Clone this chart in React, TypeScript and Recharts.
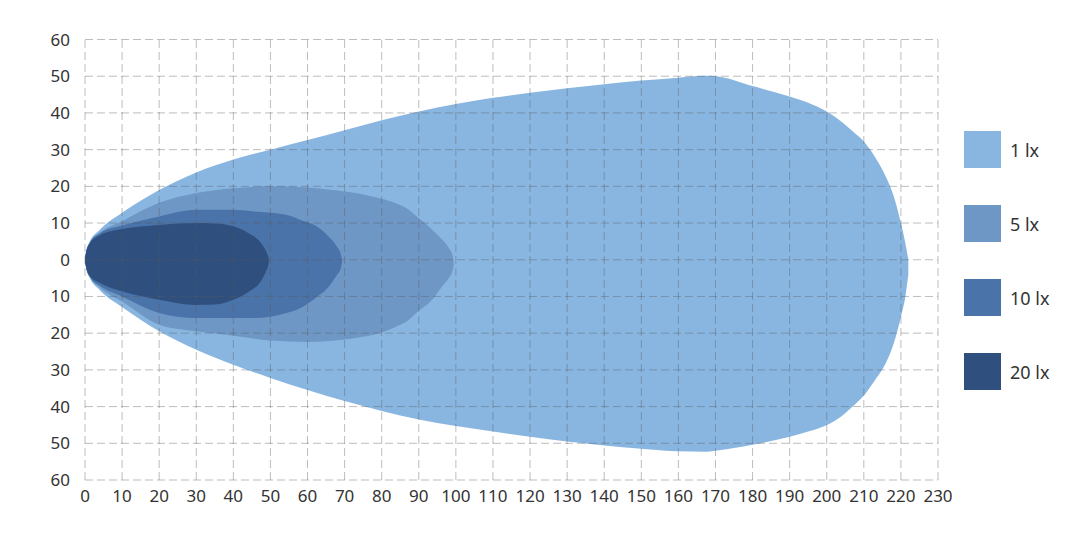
import React from "react";
import { ComposedChart, Area, XAxis, YAxis, ReferenceLine, Legend } from "recharts";

// 1 lx contour
const x1 = [0, 0.4, 1.3, 4, 10, 20, 30, 40, 50, 60, 70, 80, 90, 100, 110, 120, 130, 140, 150, 160, 167, 170, 180, 190, 195, 200, 204, 207, 210, 213, 216, 218, 220, 221.2, 222];
const hi1 = [0.5, 2.7, 5, 8.2, 12.8, 19, 23.8, 27.3, 30, 32.6, 35.3, 38, 40.4, 42.4, 44.1, 45.5, 46.7, 47.8, 48.8, 49.6, 50.1, 50, 47.3, 44.5, 42.8, 40.4, 37.6, 35, 32.2, 28, 22.5, 17.5, 10, 4.5, 0];
const lo1 = [-0.5, -2.7, -5, -8.3, -12.9, -19.5, -24.5, -28.6, -32.2, -35.5, -38.5, -41.2, -43.5, -45.3, -46.8, -48.2, -49.5, -50.6, -51.5, -52.2, -52.3, -52, -50.4, -48.2, -46.8, -45, -42.6, -40, -37, -32.8, -28, -23, -15.5, -10, -4];

// 5 lx contour
const x5 = [0, 0.4, 1.3, 4, 10, 20, 30, 40, 50, 60, 70, 75, 80, 84, 87, 89.3, 93.6, 96.3, 98.1, 99, 99.4];
const hi5 = [0.5, 2.5, 4.7, 7.4, 10.5, 15.5, 18.2, 19.5, 20, 19.7, 18.6, 17.8, 16.6, 15.3, 13.8, 11.9, 8.2, 5.5, 3.2, 1.4, -0.3];
const lo5 = [-0.5, -2.5, -4.7, -7.6, -11.4, -17.7, -19.5, -20.7, -22, -22.4, -21.7, -21, -19.8, -18.2, -16.6, -14.5, -10.9, -7.3, -5, -3.2, -1.5];

// 10 lx contour
const x10 = [0, 0.4, 1.3, 4, 10, 20, 30, 40, 45, 50, 54, 58, 62.4, 66, 68, 68.9, 69.3];
const hi10 = [0.5, 2.5, 4.6, 7.2, 9.3, 11.8, 13.6, 13.6, 13.2, 12.8, 12.3, 10.9, 9.1, 6, 3.5, 1.8, 0];
const lo10 = [-0.5, -2.5, -4.6, -7.1, -10, -14.5, -15.9, -15.9, -15.9, -15.5, -14.6, -13.2, -10.2, -7, -4, -2.5, -0.6];

// 20 lx contour
const x20 = [0, 0.4, 1.3, 4, 10, 20, 30, 35, 40, 44, 47.5, 48.8, 49.3, 49.6];
const hi20 = [0.5, 2.5, 4.5, 6.7, 8.4, 9.5, 10, 9.9, 9.1, 7.3, 4.5, 2.4, 1.2, 0];
const lo20 = [-0.5, -2.5, -4.4, -6.3, -8.6, -10.9, -12.3, -12.2, -10.9, -8.8, -5.7, -3.2, -1.9, -0.5];

const seriesNames = ["1 lx", "5 lx", "10 lx", "20 lx"];
const seriesColors = ["#89b6e1", "#6e97c5", "#4a73a9", "#2f4f7e"];

const xTicks = [0, 10, 20, 30, 40, 50, 60, 70, 80, 90, 100, 110, 120, 130, 140, 150, 160, 170, 180, 190, 200, 210, 220, 230];
const yTicks = [-60, -50, -40, -30, -20, -10, 0, 10, 20, 30, 40, 50, 60];

const build = (xs: number[], lo: number[], hi: number[]) =>
  xs.map((x, i) => ({ x, range: [lo[i], hi[i]] }));

const seriesData = [build(x1, lo1, hi1), build(x5, lo5, hi5), build(x10, lo10, hi10), build(x20, lo20, hi20)];

const FONT = "'Noto Sans', sans-serif";
const gridStroke = "#5a5a5a";

const LegendContent = () => (
  <div style={{ fontFamily: FONT }}>
    {seriesNames.map((n, i) => (
      <div key={n} style={{ display: "flex", alignItems: "center", height: 37, marginBottom: i < 3 ? 37 : 0 }}>
        <div style={{ width: 37, height: 37, background: seriesColors[i] }} />
        <span style={{ marginLeft: 9, fontSize: 18, color: "#333" }}>{n}</span>
      </div>
    ))}
  </div>
);

export default function App() {
  return (
    <ComposedChart
      width={1063}
      height={534}
      margin={{ top: 31.5, right: 133, bottom: 32, left: 17 }}
      style={{ fontFamily: FONT }}
    >
      <XAxis
        dataKey="x"
        type="number"
        domain={[0, 230]}
        ticks={xTicks}
        interval={0}
        axisLine={false}
        tickLine={false}
        tickSize={0}
        tickMargin={10}
        height={30}
        tick={{ fill: "#333", fontSize: 17 }}
        allowDataOverflow
      />
      <YAxis
        type="number"
        domain={[-60, 60]}
        ticks={yTicks}
        interval={0}
        axisLine={false}
        tickLine={false}
        tickSize={0}
        tickMargin={15}
        width={60}
        tick={{ fill: "#333", fontSize: 17 }}
        tickFormatter={(v: number) => String(Math.abs(v))}
      />
      {seriesData.map((d, i) => (
        <Area
          key={seriesNames[i]}
          name={seriesNames[i]}
          data={d}
          dataKey="range"
          type="monotone"
          fill={seriesColors[i]}
          fillOpacity={1}
          stroke="none"
          isAnimationActive={false}
          activeDot={false}
          dot={false}
        />
      ))}
      {xTicks.map((t) => (
        <ReferenceLine key={"vx" + t} x={t} stroke={gridStroke} strokeOpacity={0.4} strokeDasharray="8 4" />
      ))}
      {yTicks.map((t) => (
        <ReferenceLine key={"hy" + t} y={t} stroke={gridStroke} strokeOpacity={0.4} strokeDasharray="8 4" />
      ))}
      <Legend
        layout="horizontal"
        verticalAlign="middle"
        align="center"
        content={<LegendContent />}
        wrapperStyle={{ position: "absolute", left: 956, top: 123, width: 100 }}
      />
    </ComposedChart>
  );
}
